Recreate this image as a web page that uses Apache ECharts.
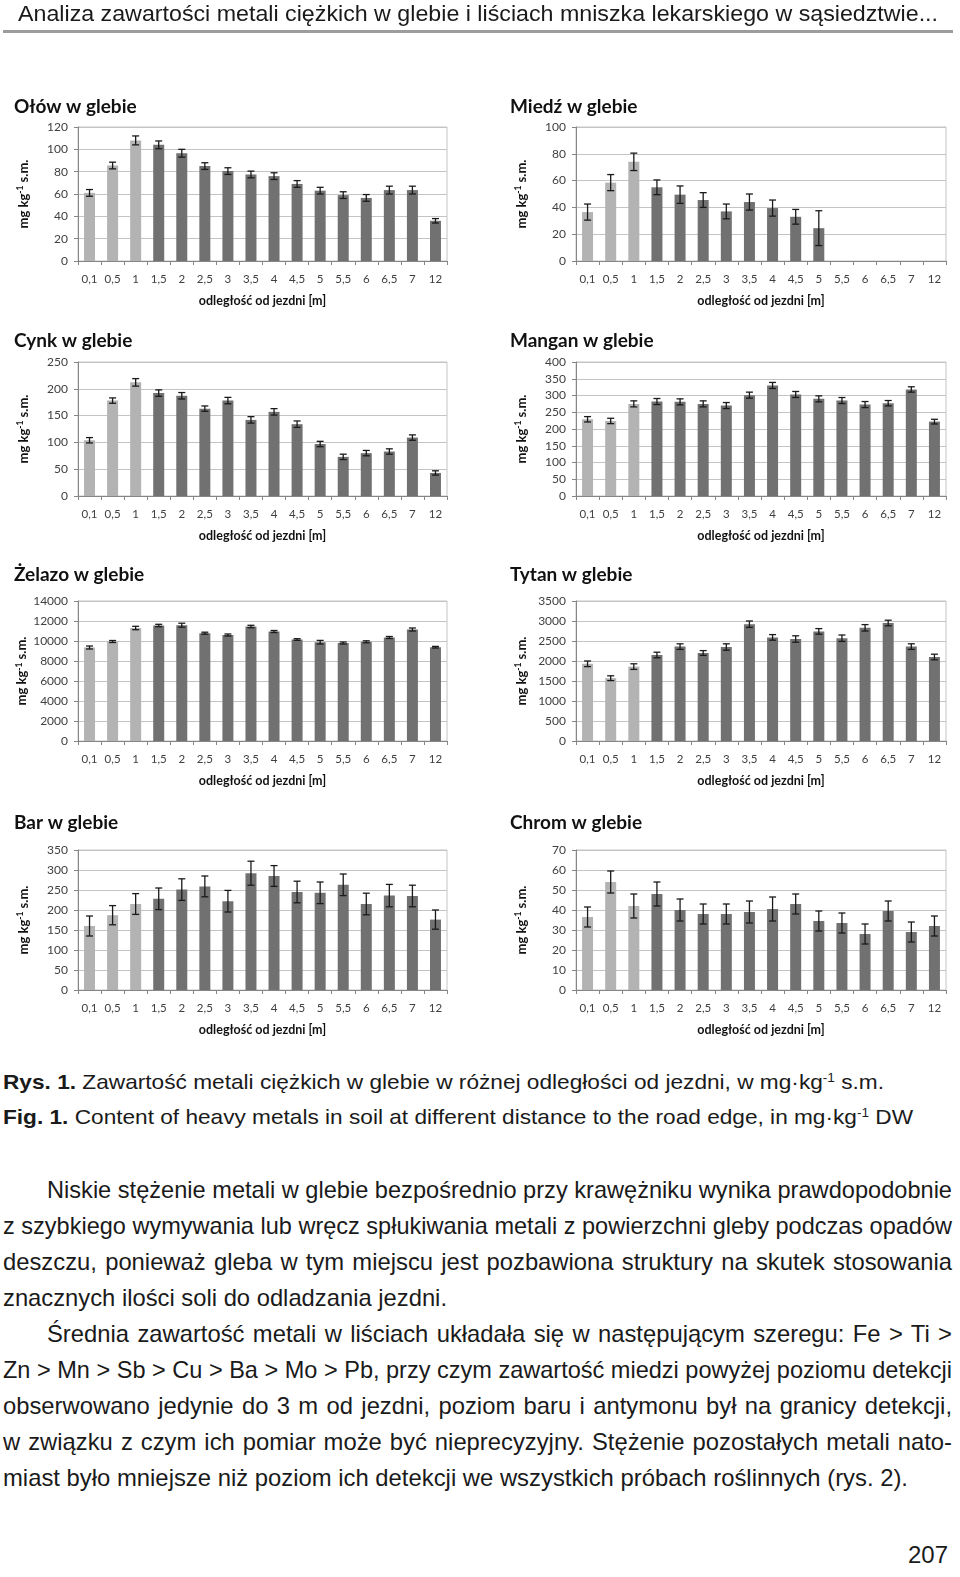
<!DOCTYPE html>
<html>
<head>
<meta charset="utf-8">
<script src="https://cdn.jsdelivr.net/npm/echarts@6/dist/echarts.min.js"></script>
<style>
  html, body { margin:0; padding:0; background:#fff; }
  body { width:960px; height:1577px; position:relative; overflow:hidden; font-family:"Liberation Sans", Arial, sans-serif; color:#1a1a1a; }
  #chart { position:absolute; left:0; top:0; width:960px; height:1050px; }
  .ln { position:absolute; white-space:nowrap; transform-origin:0 50%; }
  #rule { position:absolute; left:3px; top:30px; width:950px; height:3px; background:#9c9c9c; }
  .pl { position:absolute; left:3px; white-space:nowrap; }
  .just { text-align:justify; text-align-last:justify; }
  sup { font-size:60%; vertical-align:0.55em; line-height:0; }
</style>
</head>
<body>
<div id="chart"></div>
<div class="ln" id="hdr" style="left:18px; top:0px; font-size:22px; line-height:28px;">Analiza zawartości metali ciężkich w glebie i liściach mniszka lekarskiego w sąsiedztwie...</div>
<div id="rule"></div>
<div class="ln" id="cap1" style="left:3px; top:1068px; font-size:21px; line-height:28px;"><b>Rys. 1.</b> Zawartość metali ciężkich w glebie w różnej odległości od jezdni, w mg·kg<sup>-1</sup> s.m.</div>
<div class="ln" id="cap2" style="left:3px; top:1103px; font-size:21px; line-height:28px;"><b>Fig. 1.</b> Content of heavy metals in soil at different distance to the road edge, in mg·kg<sup>-1</sup> DW</div>
<div id="para"></div>
<div class="ln" style="left:908px; top:1540px; font-size:24px; line-height:30px;">207</div>

<script>
// ---- data ----
var categories = ['0,1','0,5','1','1,5','2','2,5','3','3,5','4','4,5','5','5,5','6','6,5','7','12'];

var olowMean = [61, 85.5, 108, 104, 96.5, 85, 80.5, 77.5, 76, 69, 63, 59, 56.5, 63.5, 63.5, 36];
var olowErr  = [3, 3, 4, 3.5, 3.5, 3, 3, 3, 3, 3, 3, 3, 3, 3.5, 3.5, 2];

var miedzMean = [36.5, 58.5, 74, 55, 49.5, 45.5, 37, 44, 39.5, 33, 24.5, null, null, null, null, null];
var miedzErr  = [6, 6, 6.5, 5.5, 6.5, 5.5, 5.5, 6, 6, 5.5, 13, null, null, null, null, null];

var cynkMean = [104, 178, 212, 192, 187, 163, 178, 142, 157, 134, 97, 73, 80, 83, 109, 43];
var cynkErr  = [5, 5, 7, 6, 6, 5, 6, 6, 6, 6, 5, 5, 5, 5, 5, 4];

var manganMean = [229, 224, 275, 282, 281, 275, 270, 301, 330, 303, 290, 285, 273, 277, 318, 222];
var manganErr  = [8, 8, 9, 9, 9, 9, 9, 9, 9, 9, 9, 9, 9, 8, 8, 7];

var zelazoMean = [9350, 9950, 11300, 11550, 11580, 10780, 10600, 11450, 10950, 10150, 9880, 9800, 9920, 10350, 11150, 9380];
var zelazoErr  = [150, 100, 170, 120, 200, 100, 100, 120, 100, 80, 180, 100, 100, 100, 150, 80];

var tytanMean = [1930, 1570, 1860, 2150, 2360, 2200, 2350, 2920, 2590, 2550, 2740, 2570, 2830, 2950, 2360, 2100];
var tytanErr  = [70, 60, 70, 70, 70, 60, 80, 80, 70, 80, 70, 80, 80, 70, 70, 70];

var barMean = [160, 187, 215, 228, 251, 259, 222, 292, 285, 245, 243, 263, 215, 236, 235, 176];
var barErr  = [25, 24, 26, 27, 27, 26, 27, 30, 26, 27, 27, 27, 27, 28, 27, 24];

var chromMean = [36.5, 54, 42, 48, 40, 38, 38, 39, 40.5, 43, 34.5, 33.5, 28, 39.5, 29, 32];
var chromErr  = [5, 5.5, 6, 6, 5.5, 5, 5, 5.5, 6, 5, 5, 5, 5, 5, 5, 5];

var panelTitles = ['Ołów w glebie','Miedź w glebie','Cynk w glebie','Mangan w glebie','Żelazo w glebie','Tytan w glebie','Bar w glebie','Chrom w glebie'];
var yMax      = [120, 100, 250, 400, 14000, 3500, 350, 70];
var yInterval = [20, 20, 50, 50, 2000, 500, 50, 10];
var xAxisName = 'odległość od jezdni [m]';

// ---- layout ----
var means = [olowMean, miedzMean, cynkMean, manganMean, zelazoMean, tytanMean, barMean, chromMean];
var errs  = [olowErr, miedzErr, cynkErr, manganErr, zelazoErr, tytanErr, barErr, chromErr];
var colLeft = [78, 576], colWidth = [369, 370];
var rowTop = [127, 362, 601, 850], rowH = [134, 134, 140, 140];
var titleLeft = [9, 505], titleCenter = [102, 336, 570, 818];
var LIGHT = '#b3b3b3', DARK = '#717171', AXIS = '#868686', GRID = '#c4c4c4', TXT = '#404040';
var FONT = 'Lato, "Open Sans", sans-serif';

var option = { animation:false, textStyle:{fontFamily:FONT}, title:[], grid:[], xAxis:[], yAxis:[], series:[] };

for (var p = 0; p < 8; p++) {
  var c = p % 2, r = Math.floor(p / 2);
  option.title.push({
    text: panelTitles[p], left: titleLeft[c], top: titleCenter[r] - 12,
    textStyle: { fontFamily: FONT, fontWeight: 'bold', fontSize: 19, color: '#111', lineHeight: 24 }
  });
  option.grid.push({ left: colLeft[c], top: rowTop[r], width: colWidth[c], height: rowH[r],
    show: true, borderColor: GRID, borderWidth: 1, backgroundColor: 'transparent' });
  option.xAxis.push({
    type: 'category', gridIndex: p, data: categories,
    name: xAxisName, nameLocation: 'middle', nameGap: 33,
    nameTextStyle: { fontFamily: FONT, fontWeight: 'bold', fontSize: 12.5, color: '#111' },
    axisLine: { lineStyle: { color: AXIS, width: 1 } },
    axisTick: { show: true, length: 4, alignWithLabel: false, lineStyle: { color: AXIS } },
    axisLabel: { interval: 0, fontSize: 11.5, color: TXT, margin: 12, fontFamily: FONT },
    splitLine: { show: false }
  });
  option.yAxis.push({
    type: 'value', gridIndex: p, min: 0, max: yMax[p], interval: yInterval[p],
    name: 'mg kg{s|-1} s.m.', nameLocation: 'middle', nameGap: 47, nameRotate: 90,
    nameTextStyle: { fontFamily: FONT, fontWeight: 'bold', fontSize: 13, color: '#111', lineHeight: 15,
      rich: { s: { fontFamily: FONT, fontWeight: 'bold', fontSize: 8.5, color: '#111', verticalAlign: 'top', lineHeight: 15 } } },
    axisLine: { show: true, lineStyle: { color: AXIS, width: 1 } },
    axisTick: { show: true, length: 4, lineStyle: { color: AXIS } },
    axisLabel: { fontSize: 12, color: TXT, margin: 10, fontFamily: FONT, formatter: function (v) { return String(v); } },
    splitLine: { show: true, lineStyle: { color: GRID, width: 1 } }
  });
  var barData = means[p].map(function (v, i) {
    return { value: v, itemStyle: { color: i < 3 ? LIGHT : DARK } };
  });
  option.series.push({ type: 'bar', xAxisIndex: p, yAxisIndex: p, data: barData, barWidth: 11, silent: true });
  var ebData = [];
  means[p].forEach(function (v, i) { if (v != null) ebData.push([i, v, errs[p][i]]); });
  option.series.push({
    type: 'custom', xAxisIndex: p, yAxisIndex: p, data: ebData, z: 10, silent: true,
    encode: { x: 0, y: 1 },
    renderItem: function (params, api) {
      var i = api.value(0), m = api.value(1), e = api.value(2);
      var hi = api.coord([i, m + e]), lo = api.coord([i, m - e]);
      var x = hi[0], w = 3.5;
      var st = { stroke: '#1a1a1a', lineWidth: 1.3 };
      return { type: 'group', children: [
        { type: 'line', shape: { x1: x, y1: hi[1], x2: x, y2: lo[1] }, style: st },
        { type: 'line', shape: { x1: x - w, y1: hi[1], x2: x + w, y2: hi[1] }, style: st },
        { type: 'line', shape: { x1: x - w, y1: lo[1], x2: x + w, y2: lo[1] }, style: st }
      ] };
    }
  });
}

var chart = echarts.init(document.getElementById('chart'), null, { renderer: 'canvas' });
chart.setOption(option);

// ---- text body ----
var paraLines = [
  ['Niskie stężenie metali w glebie bezpośrednio przy krawężniku wynika prawdopodobnie', 47, 952, true],
  ['z szybkiego wymywania lub wręcz spłukiwania metali z powierzchni gleby podczas opadów', 3, 952, true],
  ['deszczu, ponieważ gleba w tym miejscu jest pozbawiona struktury na skutek stosowania', 3, 952, true],
  ['znacznych ilości soli do odladzania jezdni.', 3, 447, false],
  ['Średnia zawartość metali w liściach układała się w następującym szeregu: Fe > Ti >', 47, 952, true],
  ['Zn > Mn > Sb > Cu > Ba > Mo > Pb, przy czym zawartość miedzi powyżej poziomu detekcji', 3, 952, true],
  ['obserwowano jedynie do 3 m od jezdni, poziom baru i antymonu był na granicy detekcji,', 3, 952, true],
  ['w związku z czym ich pomiar może być nieprecyzyjny. Stężenie pozostałych metali nato-', 3, 952, true],
  ['miast było mniejsze niż poziom ich detekcji we wszystkich próbach roślinnych (rys. 2).', 3, 908, false]
];
var para = document.getElementById('para');
function natW(text, size) {
  var s = document.createElement('span');
  s.style.cssText = 'position:absolute;white-space:nowrap;visibility:hidden;font-family:"Liberation Sans",Arial,sans-serif;font-size:' + size + 'px';
  s.textContent = text; document.body.appendChild(s);
  var w = s.getBoundingClientRect().width; document.body.removeChild(s); return w;
}
var sc = ((447 - 3) / natW(paraLines[3][0], 22) + (908 - 3) / natW(paraLines[8][0], 22)) / 2;
var fs = 22 * sc;
paraLines.forEach(function (L, k) {
  var target = L[2] - L[1];
  var nat = natW(L[0], fs);
  var d = document.createElement('div');
  d.textContent = L[0];
  d.style.left = L[1] + 'px';
  d.style.top = (1183 + 36 * k - 6) + 'px';
  d.style.fontSize = fs + 'px';
  d.style.lineHeight = '26px';
  if (L[3] && nat < target) {
    d.className = 'pl just';
    d.style.width = target + 'px';
  } else {
    d.className = 'pl';
    d.style.transformOrigin = '0 50%';
    d.style.transform = 'scaleX(' + (target / nat) + ')';
  }
  para.appendChild(d);
});
function fit(id, target) {
  var el = document.getElementById(id);
  var w = el.getBoundingClientRect().width;
  el.style.transform = 'scaleX(' + (target / w) + ')';
}
fit('hdr', 920);
fit('cap1', 881);
fit('cap2', 910);
</script>
</body>
</html>
